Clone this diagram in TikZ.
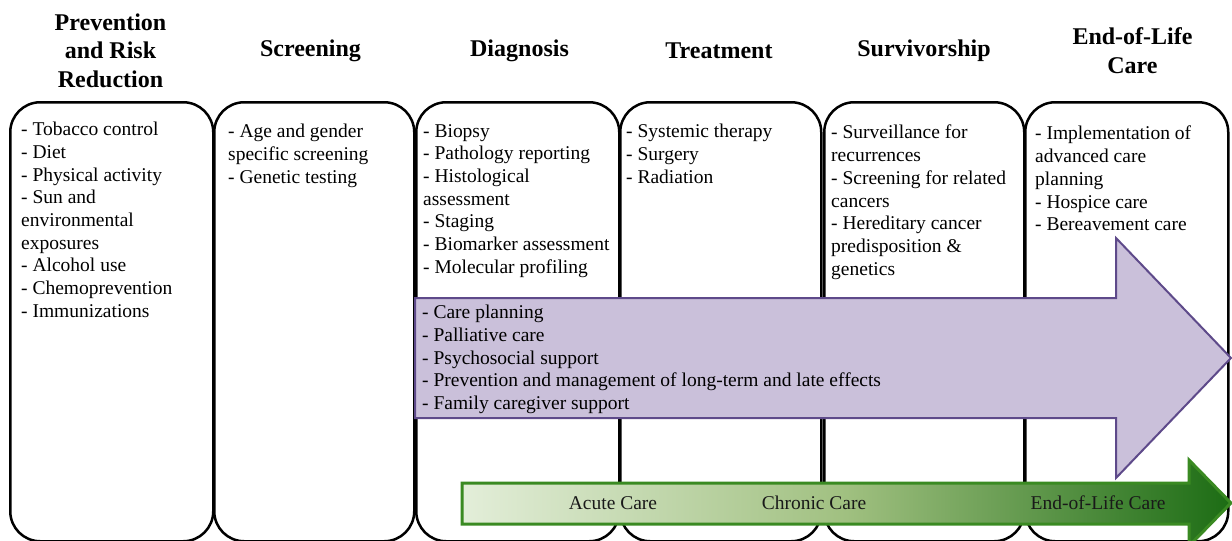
\documentclass[tikz,border=0pt]{standalone}
\usepackage{fontspec}
\setmainfont{Liberation Serif}[Ligatures=TeX]
\newfontfamily\tnr{Liberation Serif}
\definecolor{purpfill}{HTML}{CAC0DA}
\definecolor{purpline}{HTML}{5E4A8A}
\definecolor{gleft}{HTML}{E3EED9}
\definecolor{gmid}{HTML}{A0C080}
\definecolor{gright}{HTML}{1C6C14}
\definecolor{gline}{HTML}{3A8A22}
\begin{document}
\begin{tikzpicture}[x=1pt,y=-1pt,
  colbox/.style={draw=black, line width=2.5pt, rounded corners=30pt, minimum width=203pt, minimum height=439pt, inner sep=0pt, anchor=north west},
  hdr/.style={font=\tnr\fontsize{24}{28.5}\selectfont\bfseries, align=center, inner sep=0pt},
  item/.style={font=\tnr\fontsize{19.5}{22.7}\selectfont, align=left, anchor=north west, inner sep=0pt},
  glabel/.style={font=\tnr\fontsize{19.5}{22.7}\selectfont, inner sep=0pt, text=black!90}]
\useasboundingbox (0,0) rectangle (1232,541);
% column boxes
\node[colbox] (b1) at (9,101) {};
\node[colbox, minimum width=200pt] (b2) at (213,101) {};
\node[colbox] (b3) at (415,101) {};
\node[colbox, minimum width=201pt] (b4) at (619,101) {};
\node[colbox, minimum width=200pt] (b5) at (823,101) {};
\node[colbox] (b6) at (1024,101) {};
% headers
\node[hdr] (h1) at (110.5,50.5) {Prevention\\and Risk\\Reduction};
\node[hdr] (h2) at (310.5,50.5) {Screening};
\node[hdr] (h3) at (519.5,50.5) {Diagnosis};
\node[hdr] (h4) at (719,50.5) {Treatment};
\node[hdr] (h5) at (924,50.5) {Survivorship};
\node[hdr] (h6) at (1132.5,50.5) {End-of-Life\\Care};
% items
\node[item] (t1) at (21,122) {- Tobacco control\\- Diet\\- Physical activity\\- Sun and\\environmental\\exposures\\- Alcohol use\\- Chemoprevention\\- Immunizations};
\node[item] (t2) at (228,124) {- Age and gender\\specific screening\\- Genetic testing};
\node[item] (t3) at (423,124) {- Biopsy\\- Pathology reporting\\- Histological\\assessment\\- Staging\\- Biomarker assessment\\- Molecular profiling};
\node[item] (t4) at (626,124) {- Systemic therapy\\- Surgery\\- Radiation};
\node[item] (t5) at (831,125) {- Surveillance for\\recurrences\\- Screening for related\\cancers\\- Hereditary cancer\\predisposition \&\\genetics};
\node[item] (t6) at (1035,126) {- Implementation of\\advanced care\\planning\\- Hospice care\\- Bereavement care};
% purple arrow
\draw[fill=purpfill, draw=purpline, line width=2pt, line join=miter]
  (415,298) -- (1116,298) -- (1116,238) -- (1231,358) -- (1116,478) -- (1116,418) -- (415,418) -- cycle;
\node[item] (pa) at (422,305) {- Care planning\\- Palliative care\\- Psychosocial support\\- Prevention and management of long-term and late effects\\- Family caregiver support};
% green arrow
\draw[left color=gleft, right color=gright, middle color=gmid, draw=gline, line width=3pt, line join=miter]
  (462,483) -- (1189,483) -- (1189,460) -- (1231,503) -- (1189,546) -- (1189,524) -- (462,524) -- cycle;
\node[glabel] (g1) at (613,503) {Acute Care};
\node[glabel] (g2) at (814,503) {Chronic Care};
\node[glabel] (g3) at (1098,503) {End-of-Life Care};
\end{tikzpicture}
\end{document}
